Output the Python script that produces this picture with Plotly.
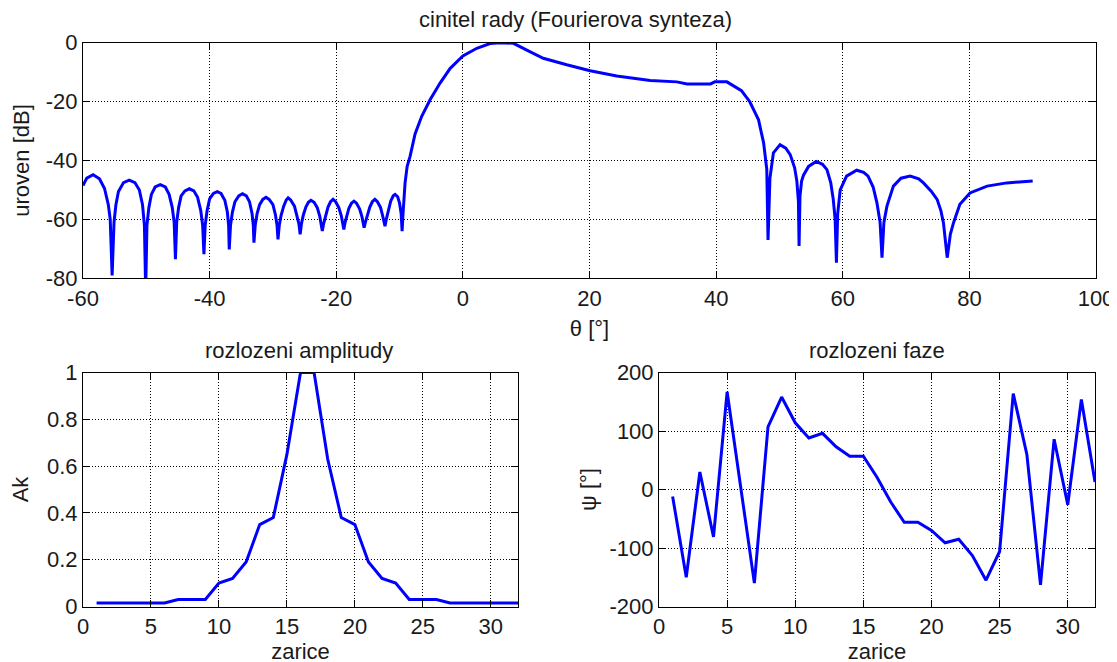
import plotly.graph_objects as go

# ---- data ----
theta = [-60.0, -59.4, -58.4, -57.4, -56.6, -56.0, -55.7, -55.4, -55.1, -54.8, -54.4, -53.6, -52.7, -51.8, -51.1,
         -50.6, -50.3, -50.1, -49.9, -49.6, -49.2, -48.6, -47.8, -47.0, -46.4, -45.9, -45.6, -45.4, -45.2, -44.9,
         -44.5, -43.9, -43.2, -42.5, -41.9, -41.4, -41.1, -40.9, -40.7, -40.4, -40.0, -39.4, -38.8, -38.2, -37.6,
         -37.2, -37.0, -36.9, -36.7, -36.4, -36.0, -35.4, -34.8, -34.2, -33.7, -33.3, -33.1, -33.0, -32.8, -32.5,
         -32.1, -31.6, -31.1, -30.6, -30.0, -29.6, -29.35, -29.2, -29.0, -28.7, -28.3, -27.9, -27.6, -27.2, -26.6,
         -26.2, -25.9, -25.7, -25.5, -25.2, -24.8, -24.4, -24.0, -23.5, -23.0, -22.6, -22.35, -22.2, -22.0, -21.7,
         -21.3, -20.9, -20.5, -20.1, -19.6, -19.2, -18.95, -18.8, -18.6, -18.3, -18.0, -17.6, -17.2, -16.8, -16.3,
         -15.95, -15.75, -15.6, -15.4, -15.1, -14.7, -14.3, -13.9, -13.5, -13.0, -12.7, -12.45, -12.3, -12.1, -11.8,
         -11.4, -11.0, -10.7, -10.3, -10.0, -9.75, -9.6, -9.45, -9.3, -9.13, -8.8, -8.34, -7.55, -6.5, -5.18,
         -3.6, -2.0, 0.0, 2.2, 4.3, 5.9, 8.0, 10.1, 12.7, 16.4, 20.1, 24.3, 29.6, 33.8, 35.4,
         39.1, 39.8, 41.7, 43.3, 44.0, 45.3, 46.7, 47.5, 48.0, 48.2, 48.5, 49.05, 50.1, 51.0, 51.7,
         52.4, 52.75, 53.0, 53.1, 53.25, 53.5, 53.8, 54.6, 55.8, 56.8, 57.5, 58.1, 58.5, 58.8, 59.0,
         59.2, 59.6, 60.6, 62.2, 63.3, 64.0, 64.8, 65.4, 65.9, 66.2, 66.5, 66.98, 68.0, 69.2, 70.65,
         72.0, 72.75, 74.0, 74.9, 75.5, 75.9, 76.5, 77.0, 77.5, 78.5, 80.1, 82.8, 85.9, 90.0]
level_db = [-48.5, -46.0, -44.8, -46.2, -49.5, -55.0, -60.0, -79.0, -61.0, -55.0, -50.5, -47.5, -46.7, -47.5, -50.0,
            -55.0, -62.0, -84.0, -62.0, -56.0, -51.5, -49.0, -48.2, -49.0, -51.5, -56.0, -61.0, -73.5, -61.0, -56.0,
            -52.0, -50.3, -49.6, -50.3, -52.5, -57.0, -62.0, -71.8, -62.0, -57.0, -53.0, -51.2, -50.6, -51.2, -53.5,
            -57.5, -62.0, -70.2, -62.0, -57.5, -54.0, -52.0, -51.3, -52.0, -54.0, -58.0, -62.0, -67.9, -62.0, -58.0,
            -55.0, -53.2, -52.5, -53.2, -55.0, -58.5, -62.0, -66.8, -62.0, -58.5, -55.5, -53.4, -52.7, -53.4, -55.5,
            -58.5, -61.5, -65.1, -61.5, -58.5, -55.8, -54.2, -53.5, -54.2, -56.0, -59.0, -61.5, -63.9, -61.5, -58.8,
            -55.8, -54.0, -53.2, -54.0, -56.0, -58.8, -61.0, -63.4, -61.0, -58.8, -56.2, -54.5, -53.8, -54.5, -56.5,
            -59.0, -61.0, -62.8, -61.0, -58.5, -55.8, -54.0, -53.2, -54.0, -56.0, -58.5, -60.5, -62.3, -60.0, -57.0,
            -53.8, -52.0, -51.5, -52.3, -54.5, -58.0, -64.0, -58.0, -52.0, -47.6, -42.0, -38.6, -31.0, -25.0, -19.4,
            -13.7, -8.7, -4.5, -1.9, -0.3, 0.0, -0.2, -2.5, -5.3, -7.5, -9.5, -11.3, -12.8, -13.3, -14.0,
            -14.0, -13.3, -13.3, -15.2, -16.3, -20.0, -26.2, -34.0, -43.0, -67.0, -46.0, -37.4, -34.6, -35.8, -38.0,
            -42.5, -47.0, -54.0, -69.0, -52.0, -47.0, -45.0, -42.0, -40.3, -41.3, -43.1, -47.5, -53.2, -60.0, -74.7,
            -58.0, -50.0, -45.3, -43.3, -44.0, -45.3, -49.0, -54.4, -61.0, -73.0, -61.0, -55.5, -48.7, -46.0, -45.3,
            -46.2, -47.6, -50.5, -53.2, -57.0, -61.1, -73.0, -65.0, -61.1, -54.9, -51.0, -48.7, -47.6, -47.0]

elements = list(range(1, 33))
amplitude = [0.015, 0.015, 0.015, 0.015, 0.015, 0.015, 0.03, 0.03, 0.03, 0.10, 0.12, 0.19, 0.35, 0.38, 0.65, 1.0,
             1.0, 0.63, 0.38, 0.35, 0.19, 0.12, 0.10, 0.03, 0.03, 0.03, 0.015, 0.015, 0.015, 0.015, 0.015, 0.015]
phase = [-12, -150, 30, -81, 167, 0, -160, 107, 158, 114, 88, 96, 73, 57, 57, 21,
         -21, -56, -56, -70, -91, -85, -113, -155, -106, 164, 60, -163, 86, -26, 154, 13]

theta_ticks = [-60, -40, -20, 0, 20, 40, 60, 80, 100]
db_ticks = [-80, -60, -40, -20, 0]
element_ticks = [0, 5, 10, 15, 20, 25, 30]
amp_ticks = [0, 0.2, 0.4, 0.6, 0.8, 1]
amp_labels = ["0", "0.2", "0.4", "0.6", "0.8", "1"]
phase_ticks = [-200, -100, 0, 100, 200]

# ---- figure ----
W, H = 1117, 662
OFF = 8  # the page body margin shifts the plot div by 8 px right and down
BLUE = "#0000FF"
TXT = "#1a1a1a"
FONT = "Liberation Sans, Arial, sans-serif"
FS = 22


def px(x):
    return (x - OFF) / W


def py(y):
    return 1 - (y - OFF) / H


def lab(vals):
    return [str(v) for v in vals]  # plain hyphen minus like the reference


fig = go.Figure()
for xs, ys, xa, ya in [(theta, level_db, "x", "y"), (elements, amplitude, "x2", "y2"), (elements, phase, "x3", "y3")]:
    fig.add_trace(go.Scatter(x=xs, y=ys, mode="lines", line=dict(color=BLUE, width=3),
                             xaxis=xa, yaxis=ya, showlegend=False))

common = dict(showline=True, linecolor="black", linewidth=1, mirror="allticks", ticks="inside", ticklen=7,
              tickcolor="black", showgrid=True, gridcolor="black", gridwidth=1, griddash="1px,2px",
              zeroline=False, automargin=False, tickfont=dict(family=FONT, size=FS, color=TXT),
              title_font=dict(family=FONT, size=FS, color=TXT))

fig.update_layout(
    width=W, height=H, margin=dict(l=0, r=0, t=0, b=0),
    paper_bgcolor="white", plot_bgcolor="white",
    xaxis=dict(common, domain=[px(83), px(1096)], range=[-60, 100], tickvals=theta_ticks, ticktext=lab(theta_ticks),
               anchor="y", title=dict(text="θ [°]", standoff=10)),
    yaxis=dict(common, domain=[py(278.3), py(42.7)], range=[-80, 0], tickvals=db_ticks, ticktext=lab(db_ticks),
               anchor="x", title=dict(text="uroven [dB]", standoff=10)),
    xaxis2=dict(common, domain=[px(83), px(518)], range=[0, 32], tickvals=element_ticks,
                ticktext=lab(element_ticks), anchor="y2", title=dict(text="zarice", standoff=3)),
    yaxis2=dict(common, domain=[py(606.5), py(372.5)], range=[0, 1], tickvals=amp_ticks,
                ticktext=amp_labels, anchor="x2", title=dict(text="Ak", standoff=14)),
    xaxis3=dict(common, domain=[px(659), px(1095)], range=[0, 32], tickvals=element_ticks,
                ticktext=lab(element_ticks), anchor="y3", title=dict(text="zarice", standoff=3)),
    yaxis3=dict(common, domain=[py(606.5), py(372.5)], range=[-200, 200], tickvals=phase_ticks,
                ticktext=lab(phase_ticks), anchor="x3", title=dict(text="ψ [°]", standoff=6)),
    annotations=[
        dict(text="cinitel rady (Fourierova synteza)", x=px(575), y=py(20), xref="paper", yref="paper",
             showarrow=False, font=dict(family=FONT, size=FS, color=TXT), xanchor="center", yanchor="middle"),
        dict(text="rozlozeni amplitudy", x=px(299), y=py(350), xref="paper", yref="paper",
             showarrow=False, font=dict(family=FONT, size=FS, color=TXT), xanchor="center", yanchor="middle"),
        dict(text="rozlozeni faze", x=px(877), y=py(350), xref="paper", yref="paper",
             showarrow=False, font=dict(family=FONT, size=FS, color=TXT), xanchor="center", yanchor="middle"),
    ],
)

fig.write_html("out.html")
